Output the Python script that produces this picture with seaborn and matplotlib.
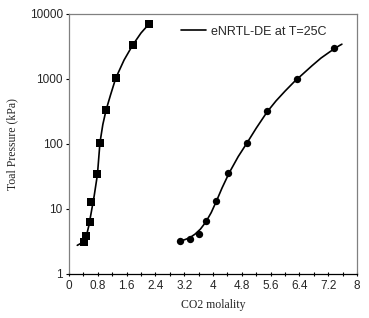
import numpy as np
import pandas as pd
import seaborn as sns
import matplotlib.pyplot as plt
from matplotlib.ticker import FixedLocator, FixedFormatter, MultipleLocator, NullLocator
from matplotlib.lines import Line2D

# measured points (squares)
sq_x = [0.42, 0.47, 0.57, 0.62, 0.79, 0.86, 1.03, 1.30, 1.77, 2.22]
sq_y = [3.1, 3.9, 6.3, 12.7, 34, 105, 330, 1035, 3330, 7000]

# measured points (circles)
ci_x = [3.09, 3.35, 3.61, 3.81, 4.09, 4.43, 4.94, 5.51, 6.33, 7.37]
ci_y = [3.25, 3.5, 4.1, 6.5, 13.4, 35.8, 105, 320, 1000, 3030]

# eNRTL-DE model curves
sq_model_x = [0.23, 0.35, 0.47, 0.55, 0.62, 0.70, 0.79, 0.86, 0.94, 1.03, 1.15, 1.30,
              1.53, 1.77, 2.0, 2.22]
sq_model_y = [2.76, 3.0, 3.6, 5.5, 9.0, 16, 34, 105, 200, 333, 560, 1035,
              1960, 3330, 5100, 7000]
ci_model_x = [3.05, 3.2, 3.35, 3.5, 3.65, 3.8, 3.95, 4.1, 4.25, 4.45, 4.7, 4.95, 5.2,
              5.5, 5.75, 6.0, 6.25, 6.5, 6.75, 7.0, 7.25, 7.5, 7.58]
ci_model_y = [3.2, 3.35, 3.6, 4.1, 4.9, 6.3, 8.8, 13.4, 21, 36, 64, 105, 175,
              310, 460, 650, 900, 1200, 1600, 2100, 2630, 3240, 3430]

x_ticks = [0, 0.8, 1.6, 2.4, 3.2, 4, 4.8, 5.6, 6.4, 7.2, 8]
x_labels = ["0", "0.8", "1.6", "2.4", "3.2", "4", "4.8", "5.6", "6.4", "7.2", "8"]
y_ticks = [1, 10, 100, 1000, 10000]
y_labels = ["1", "10", "100", "1000", "10000"]

sns.set_style("white")
plt.rcParams['font.family'] = ['Liberation Sans', 'DejaVu Sans']

fig = plt.figure(figsize=(3.69, 3.18), dpi=100)
ax = fig.add_axes([0.187, 0.1384, 0.7805, 0.8176])

sns.lineplot(x=sq_model_x, y=sq_model_y, sort=False, color="black", lw=1.2, ax=ax)
sns.lineplot(x=ci_model_x, y=ci_model_y, sort=False, color="black", lw=1.2, ax=ax)
sns.scatterplot(x=sq_x, y=sq_y, marker="s", s=26, color="black", edgecolor="black",
                linewidth=0, ax=ax, zorder=3)
sns.scatterplot(x=ci_x, y=ci_y, marker="o", s=28, color="black", edgecolor="black",
                linewidth=0, ax=ax, zorder=3)

ax.set_yscale("log")
ax.set_xlim(0, 8)
ax.set_ylim(1, 10000)
ax.xaxis.set_major_locator(FixedLocator(x_ticks))
ax.xaxis.set_major_formatter(FixedFormatter(x_labels))
ax.xaxis.set_minor_locator(MultipleLocator(0.4))
ax.yaxis.set_major_locator(FixedLocator(y_ticks))
ax.yaxis.set_major_formatter(FixedFormatter(y_labels))
ax.yaxis.set_minor_locator(NullLocator())

ax.tick_params(axis="x", which="both", bottom=True, direction="inout", length=3.5, width=0.8,
               color="black", labelsize=8.5, pad=2.5)
ax.tick_params(axis="y", which="major", left=True, direction="out", length=2.5, width=0.8,
               color="black", labelsize=8.5, pad=2)

for side in ["top", "right", "left"]:
    ax.spines[side].set_color("#808080")
    ax.spines[side].set_linewidth(0.9)
ax.spines["bottom"].set_color("black")
ax.spines["bottom"].set_linewidth(0.9)

ax.set_xlabel("CO2 molality", family=["Liberation Serif", "DejaVu Serif"], fontsize=8.5, labelpad=5)
ax.set_ylabel("Toal Pressure (kPa)", family=["Liberation Serif", "DejaVu Serif"], fontsize=8.5, labelpad=8)

handle = Line2D([], [], color="black", lw=1.2)
ax.legend([handle], ["eNRTL-DE at T=25C"], loc="upper left", bbox_to_anchor=(0.39, 0.955),
          frameon=False, fontsize=9, handlelength=2.0, handletextpad=0.4, borderaxespad=0,
          borderpad=0)

fig.savefig("out.png", dpi=100)
